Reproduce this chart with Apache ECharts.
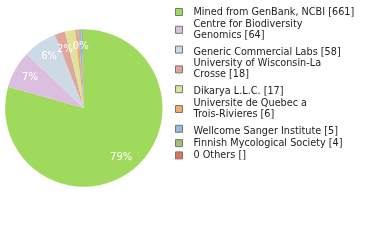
<!DOCTYPE html>
<html><head><meta charset="utf-8">
<script src="https://cdn.jsdelivr.net/npm/echarts@6/dist/echarts.min.js"></script>
<style>html,body{margin:0;padding:0;background:#fff}#c{width:380px;height:240px}</style>
</head><body><div id="c"></div>
<script>
var categories = ["Mined from GenBank, NCBI","Centre for Biodiversity Genomics","Generic Commercial Labs","University of Wisconsin-La Crosse","Dikarya L.L.C.","Universite de Quebec a Trois-Rivieres","Wellcome Sanger Institute","Finnish Mycological Society","0 Others"];
var counts = [661,64,58,18,17,6,5,4,0];
var countLabels = ["661","64","58","18","17","6","5","4",""];
var legendLines = [
  ["Mined from GenBank, NCBI [661]"],
  ["Centre for Biodiversity","Genomics [64]"],
  ["Generic Commercial Labs [58]"],
  ["University of Wisconsin-La","Crosse [18]"],
  ["Dikarya L.L.C. [17]"],
  ["Universite de Quebec a","Trois-Rivieres [6]"],
  ["Wellcome Sanger Institute [5]"],
  ["Finnish Mycological Society [4]"],
  ["0 Others []"]
];
var colors = ["#a0da5c","#dcbfe0","#cdd9e5","#e0a59b","#dfe29d","#f2a96c","#98b9df","#9dc274","#e07356"];

var data = categories.map(function(n,i){return {name:n,value:counts[i],itemStyle:{color:colors[i]}};});
var legendMap = {};
categories.forEach(function(n,i){
  var lines = legendLines[i];
  var prevWrapped = i > 0 && legendLines[i-1].length > 1;
  if (lines.length === 1 && prevWrapped) {
    legendMap[n] = '{t|' + lines[0] + '}{s| }';
  } else {
    legendMap[n] = lines.join('\n');
  }
});

var chart = echarts.init(document.getElementById('c'),null,{renderer:'canvas'});
chart.setOption({
  animation:false,
  legend:{
    orient:'vertical', left:175, top:6.5, padding:0, itemWidth:7, itemHeight:7, itemGap:1.3,
    icon:'rect', selectedMode:false,
    itemStyle:{borderColor:'#777',borderWidth:1},
    formatter:function(n){return legendMap[n];},
    textStyle:{fontFamily:'DejaVu Sans',fontSize:9.7,color:'#222',lineHeight:11,padding:[0,0,0,6],
      rich:{
        t:{fontFamily:'DejaVu Sans',fontSize:9.7,color:'#222',lineHeight:11,verticalAlign:'bottom'},
        s:{fontFamily:'DejaVu Sans',fontSize:9.7,lineHeight:15}
      }}
  },
  series:[{
    type:'pie', center:[83.8,108], radius:[0,78.7], startAngle:90, clockwise:true,
    data:data, label:{show:false}, labelLine:{show:false}, silent:true,
    itemStyle:{borderWidth:0}
  },{
    type:'pie', center:[83.8,108], radius:[39,78.7], startAngle:90, clockwise:true,
    data:data.map(function(d){return {name:d.name,value:d.value,itemStyle:{color:'rgba(0,0,0,0)'}};}),
    silent:true, legendHoverLink:false,
    label:{show:true,position:'inside',color:'#fff',fontFamily:'DejaVu Sans',fontSize:10,
      formatter:function(p){return Math.floor(p.percent)+'%';}},
    labelLine:{show:false}
  }]
});
</script></body></html>
